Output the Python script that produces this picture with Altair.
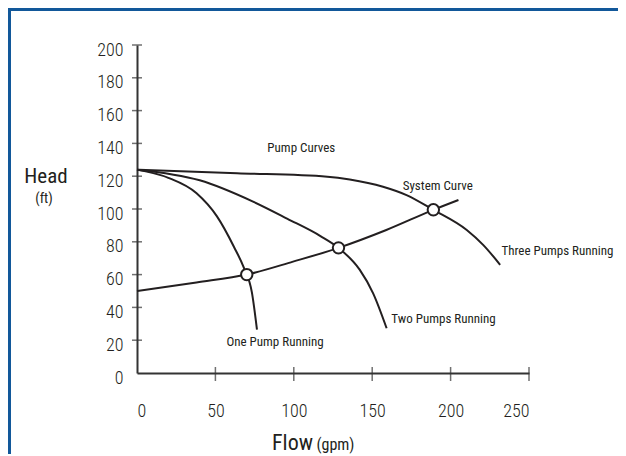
import altair as alt
import pandas as pd

# ---- data ----
one_x = [0, 20, 38, 51, 61.8, 68, 73.3, 76.5]
one_y = [124, 119, 109.6, 95.5, 77, 64.5, 49, 26.5]

two_x = [0, 40, 74, 96, 117, 128.5, 142, 150.6, 159.2]
two_y = [124, 117.5, 104.5, 94, 83.5, 76.3, 63, 48.6, 27.3]

three_x = [0, 63.8, 121.4, 135.7, 156.9, 171.9, 189, 210.3, 220.9, 231.6]
three_y = [124, 121.8, 119.7, 118, 113.6, 108.5, 99.5, 87.2, 78, 66]

sys_x = [0, 37.9, 70, 99.5, 128.5, 159, 189, 205]
sys_y = [50, 55.2, 60, 67.9, 76.3, 87.2, 99.5, 105.5]

op_x = [70, 128.5, 189]
op_y = [60, 76.3, 99.5]

lab_text = ["Pump Curves", "System Curve", "Three Pumps Running", "Two Pumps Running", "One Pump Running"]
lab_x = [104.8, 191.8, 232.4, 162.2, 57]
lab_y = [137.2, 114, 74.4, 32.9, 18.7]
lab_align = ["center", "center", "left", "left", "left"]

x_labels = [0, 50, 100, 150, 200, 250]
y_labels = [0, 20, 40, 60, 80, 100, 120, 140, 160, 180, 200]
x_ticks = [50, 100, 150, 200, 250]
y_ticks = [20, 40, 60, 80, 100, 120, 140, 160, 180, 200]

FONT = "Liberation Sans Narrow, Arial Narrow, Roboto Condensed, Roboto, sans-serif"
INK = "#231f20"
FRAME = "#12589a"

rows = []
for name, xs_, ys_ in [("one", one_x, one_y), ("two", two_x, two_y),
                       ("three", three_x, three_y), ("system", sys_x, sys_y)]:
    for i, (a, b) in enumerate(zip(xs_, ys_)):
        rows.append({"series": name, "flow": a, "head": b, "order": i})
curves_df = pd.DataFrame(rows)
op_df = pd.DataFrame({"flow": op_x, "head": op_y})
lab_df = pd.DataFrame({"text": lab_text, "flow": lab_x, "head": lab_y, "align": lab_align})
xt_df = pd.DataFrame({"flow": x_ticks, "head": [0] * len(x_ticks)})
yt_df = pd.DataFrame({"head": y_ticks, "flow": [0] * len(y_ticks)})

xs = alt.Scale(domain=[0, 250], nice=False, zero=False)
ys = alt.Scale(domain=[0, 200], nice=False, zero=False)

x_axis = alt.Axis(
    title=None, values=x_labels, ticks=False, tickSize=0,
    grid=False, domainColor="#333333", domainWidth=2,
    labelFont=FONT, labelFontSize=18, labelColor=INK, labelFontWeight=300,
    labelPadding=38, labelBaseline="middle")
y_axis = alt.Axis(
    title=None, values=y_labels, ticks=False, tickSize=0, grid=False,
    domainColor="#333333", domainWidth=2,
    labelFont=FONT, labelFontSize=18, labelColor=INK, labelFontWeight=300,
    labelPadding=14, labelOffset=5, labelBaseline="middle")

X = alt.X("flow:Q", scale=xs, axis=x_axis)
Y = alt.Y("head:Q", scale=ys, axis=y_axis)

curves = alt.Chart(curves_df).mark_line(
    color=INK, strokeWidth=2, interpolate="monotone"
).encode(x=X, y=Y, detail="series:N", order="order:Q")

xticks = alt.Chart(xt_df).mark_tick(
    orient="vertical", size=14, thickness=1.5, color="#333333", yOffset=1
).encode(x=X, y=Y)

yticks = alt.Chart(yt_df).mark_tick(
    orient="horizontal", size=10, thickness=1.5, color="#333333"
).encode(x=X, y=Y)

points = alt.Chart(op_df).mark_point(
    shape="circle", size=130, filled=False, fill="white", fillOpacity=1,
    stroke=INK, strokeWidth=2, opacity=1
).encode(x=X, y=Y)

def lab_layer(align):
    return alt.Chart(lab_df[lab_df["align"] == align]).mark_text(
        font=FONT, fontSize=13, color=INK, align=align, baseline="middle",
        fontWeight=400
    ).encode(x=X, y=Y, text="text:N")

def fixed_text(txt, x, y, size, align):
    return alt.Chart(pd.DataFrame({"t": [txt]})).mark_text(
        font=FONT, fontSize=size, color=INK, align=align, baseline="alphabetic",
        fontWeight=400
    ).encode(x=alt.value(x), y=alt.value(y), text="t:N")

titles = [
    fixed_text("Head", -91, 138, 21, "center"),
    fixed_text("(ft)", -93, 158, 14, "center"),
    fixed_text("Flow", 176, 404.5, 22, "right"),
    fixed_text("(gpm)", 179.5, 404.5, 16, "left"),
]

frame_top = alt.Chart(pd.DataFrame({"a": [0]})).mark_rule(color=FRAME, strokeWidth=3).encode(
    x=alt.value(-129), x2=alt.value(481), y=alt.value(-35.5))
frame_left = alt.Chart(pd.DataFrame({"a": [0]})).mark_rule(color=FRAME, strokeWidth=3).encode(
    x=alt.value(-127.5), y=alt.value(-37), y2=alt.value(420))

chart = alt.layer(
    curves, xticks, yticks, points, lab_layer("center"), lab_layer("left"),
    *titles, frame_top, frame_left
).properties(
    width=392, height=328,
    autosize=alt.AutoSizeParams(type="none"),
    padding={"left": 129, "top": 37, "right": 89, "bottom": 81},
    background="white",
).configure_view(stroke=None)

chart.save("out.html", embed_options={"renderer": "svg", "actions": False})
